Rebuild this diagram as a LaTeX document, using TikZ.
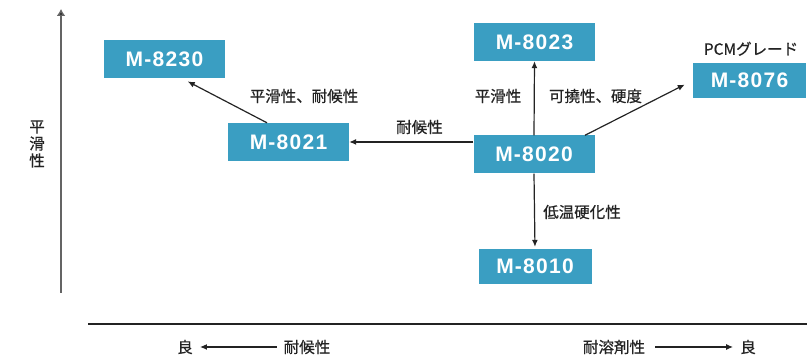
\documentclass[tikz,border=0pt]{standalone}
\usepackage{fontspec}
\setmainfont{Noto Sans CJK JP}[FakeBold=0.6]
\newfontfamily\gradefont[LetterSpace=6.0]{Liberation Sans}
\usetikzlibrary{arrows.meta}
\definecolor{gradeblue}{RGB}{58,158,194}
\definecolor{inkgray}{RGB}{35,35,35}
\definecolor{axisgray}{RGB}{100,100,100}
\tikzstyle{grade} = [fill=gradeblue, text=white, inner sep=0pt,
    font=\gradefont\bfseries\fontsize{21}{21}\selectfont,
    minimum width=121pt, minimum height=38pt, text centered]
\tikzstyle{smallgrade} = [grade, minimum width=113pt, minimum height=35pt]
\tikzstyle{prop} = [text=inkgray, inner sep=0pt,
    font=\fontsize{15.5}{17}\selectfont]
\tikzstyle{conn} = [draw=inkgray, line width=1.2pt,
    -{Latex[length=7pt,width=6pt]}]

\begin{document}
\begin{tikzpicture}[x=1pt,y=-1pt]
    \useasboundingbox (0,0) rectangle (807,358);

    % axes
    \coordinate (ybot) at (61,293);
    \coordinate (ytop) at (61,9);
    \coordinate (xleft) at (88,324);
    \coordinate (xright) at (807,324);
    \draw [draw=axisgray, line width=2.2pt, -{Latex[length=7pt,width=9pt,fill=inkgray]}] (ybot) -- (ytop);
    \draw [draw=inkgray, line width=1.5pt] (xleft) -- (xright);
    \node (yname) [prop, align=center] at (37,144) {平\\滑\\性};

    % grades
    \node (m8020) [grade] at (534,154.5) {M-8020};
    \path (m8020)+(0.5,-112.5) node (m8023) [grade] {M-8023};
    \path (m8020)+(1,112) node (m8010) [smallgrade] {M-8010};
    \path (m8020)+(-245.5,-12.5) node (m8021) [grade] {M-8021};
    \path (m8021)+(-124,-83) node (m8230) [grade] {M-8230};
    \path (m8020)+(215.5,-74) node (m8076) [smallgrade] {M-8076};
    \path (m8076.north)+(1.5,-14) node (pcm) [prop] {PCMグレード};

    \draw [conn] (m8020.north) -- (m8023.south);
    \draw [conn, shorten >=2pt] (m8020.south) -- (m8010.north);
    \draw [conn] (m8020.west |- m8021.east) -- (m8021.east);
    \draw [conn, shorten >=9pt] ([xshift=51pt]m8020.north) -- (m8076.west);
    \draw [conn, shorten >=7pt] ([xshift=-21.5pt]m8021.north) -- ([xshift=17pt]m8230.south);

    % property labels
    \node (smweath) [prop] at (304,96) {平滑性、耐候性};
    \node (weath) [prop] at (419.5,127) {耐候性};
    \node (smooth) [prop] at (498,96) {平滑性};
    \node (flexhard) [prop] at (595.5,96) {可撓性、硬度};
    \node (lowcure) [prop] at (582,212) {低温硬化性};

    % bottom scale
    \node (goodl) [prop] at (185,347) {良};
    \node (weathx) [prop] at (307,347) {耐候性};
    \node (solvx) [prop] at (614,347) {耐溶剤性};
    \node (goodr) [prop] at (748,347) {良};
    \draw [conn, shorten <=7pt, shorten >=7pt] (weathx) -- (goodl);
    \draw [conn, shorten <=10pt, shorten >=7pt] (solvx) -- (goodr);
\end{tikzpicture}
\end{document}
